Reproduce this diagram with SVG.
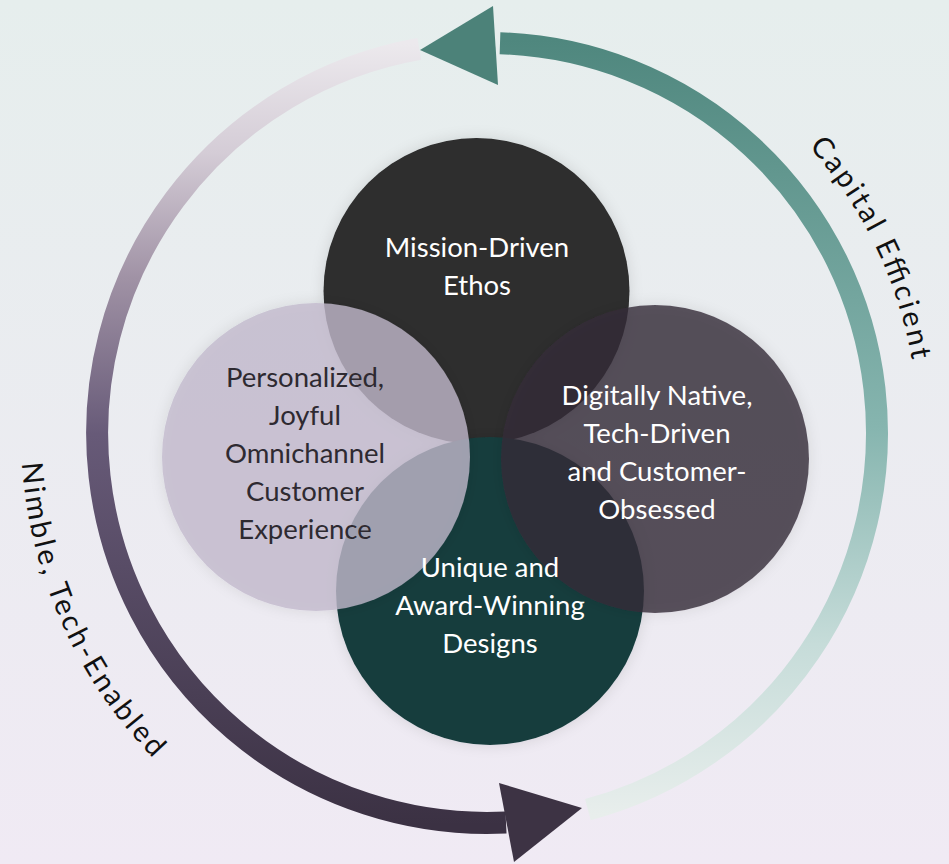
<svg xmlns="http://www.w3.org/2000/svg" width="949" height="864" viewBox="0 0 949 864">
<defs>
<linearGradient id="bg" x1="0" y1="0" x2="0" y2="1">
<stop offset="0" stop-color="#e6eeed"/>
<stop offset="1" stop-color="#f0eaf4"/>
</linearGradient>
<linearGradient id="tealG" gradientUnits="userSpaceOnUse" x1="0" y1="40" x2="0" y2="815">
<stop offset="0" stop-color="#4f877e"/>
<stop offset="0.5" stop-color="#86b5af"/>
<stop offset="0.78" stop-color="#c6dcd9"/>
<stop offset="1" stop-color="#e8eeec"/>
</linearGradient>
<linearGradient id="purpG" gradientUnits="userSpaceOnUse" x1="0" y1="44" x2="0" y2="825">
<stop offset="0" stop-color="#ece9ed"/>
<stop offset="0.14" stop-color="#d4ccd6"/>
<stop offset="0.3" stop-color="#a092a5"/>
<stop offset="0.5" stop-color="#675a78"/>
<stop offset="1" stop-color="#3b3143"/>
</linearGradient>
<filter id="sh" x="-20%" y="-20%" width="140%" height="140%">
<feDropShadow dx="0" dy="0" stdDeviation="7" flood-color="#000" flood-opacity="0.12"/>
</filter>
<path id="capPath" d="M 56 433 A 431 431 0 0 1 918 433"/>
<path id="nimPath" d="M 21 433 A 466 466 0 0 0 487 899"/>
</defs>
<style>
.lbl{font-family:"Lato","Open Sans",sans-serif;font-size:27.5px;text-anchor:middle}
.w{fill:#ffffff}
.d{fill:#2e2a31}
.ring{font-family:"Lato","Open Sans",sans-serif;font-size:29px;fill:#111111}
</style>
<rect width="949" height="864" fill="url(#bg)"/>
<g id="connectors">
<path id="arc-capital" d="M 587.9 809.7 A 390 390 0 0 0 500 43.2" fill="none" stroke="url(#tealG)" stroke-width="22"/>
<polygon id="head-top" points="420,50 493,6 498,85" fill="#4c8279"/>
<path id="arc-nimble" d="M 419.3 48.9 A 390 390 0 0 0 506 822.5" fill="none" stroke="url(#purpG)" stroke-width="22"/>
<polygon id="head-bottom" points="582,808 499,783 514,862" fill="#3d3344"/>
</g>
<g id="label-capital">
<text class="ring"><textPath href="#capPath" startOffset="1160" text-anchor="middle" textLength="240" lengthAdjust="spacing">Capital Efficient</textPath></text>
</g>
<g id="label-nimble">
<text class="ring"><textPath href="#nimPath" startOffset="195" text-anchor="middle" textLength="330" lengthAdjust="spacing">Nimble, Tech-Enabled</textPath></text>
</g>
<g id="node-mission" filter="url(#sh)">
<circle cx="476.5" cy="291" r="153" fill="#2d2d2d"/>
</g>
<g id="node-designs" filter="url(#sh)">
<circle cx="490" cy="591" r="154" fill="#173d3d"/>
</g>
<g id="node-personalized" filter="url(#sh)">
<circle cx="316" cy="457" r="154" fill="#c2b9cc" fill-opacity="0.79"/>
</g>
<g id="node-digital" filter="url(#sh)">
<circle cx="655" cy="459" r="154" fill="#362c3a" fill-opacity="0.8"/>
</g>
<g id="texts">
<text class="lbl w" x="477" y="257">Mission-Driven</text>
<text class="lbl w" x="477" y="295">Ethos</text>
<text class="lbl d" x="305" y="387">Personalized,</text>
<text class="lbl d" x="305" y="425">Joyful</text>
<text class="lbl d" x="305" y="463">Omnichannel</text>
<text class="lbl d" x="305" y="501">Customer</text>
<text class="lbl d" x="305" y="539">Experience</text>
<text class="lbl w" x="657" y="405">Digitally Native,</text>
<text class="lbl w" x="657" y="443">Tech-Driven</text>
<text class="lbl w" x="657" y="481">and Customer-</text>
<text class="lbl w" x="657" y="519">Obsessed</text>
<text class="lbl w" x="490" y="577">Unique and</text>
<text class="lbl w" x="490" y="615">Award-Winning</text>
<text class="lbl w" x="490" y="653">Designs</text>
</g>
</svg>
